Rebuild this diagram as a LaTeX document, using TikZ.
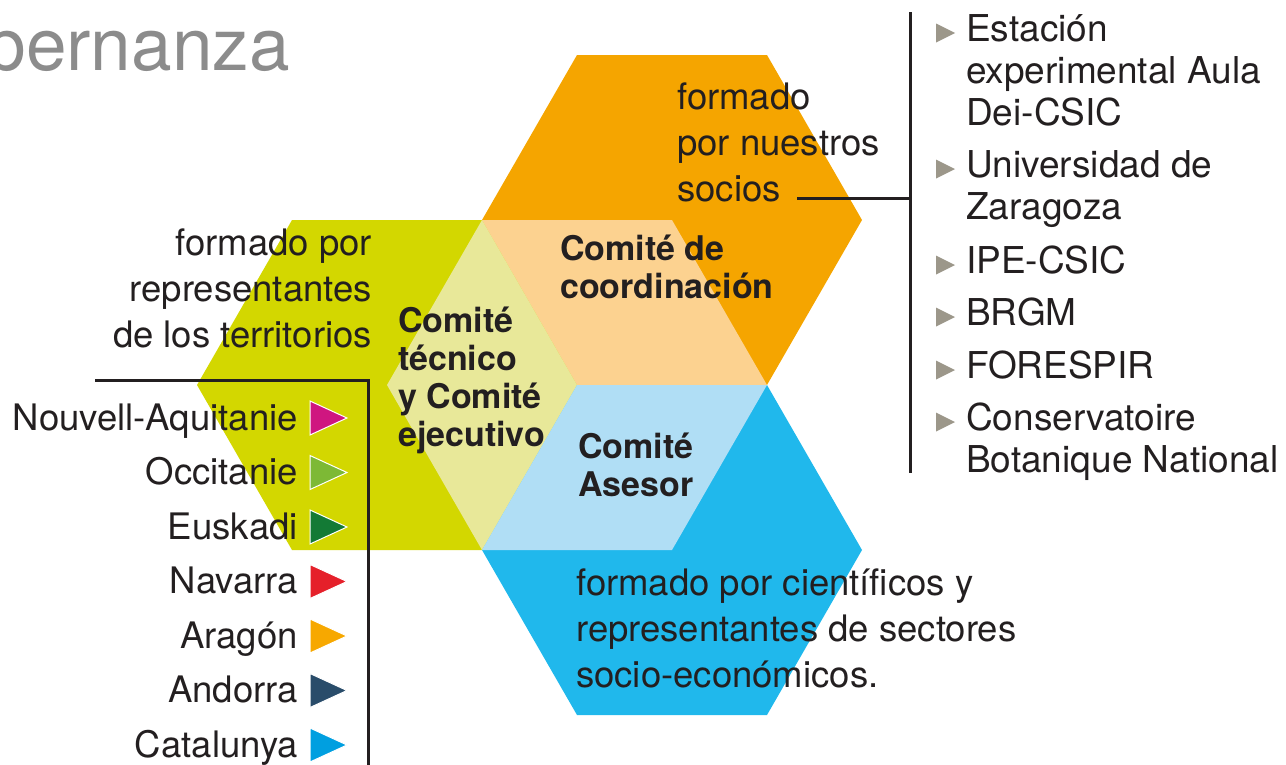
\documentclass[tikz,border=0pt]{standalone}
\usepackage{fontspec}
\setmainfont{TeX Gyre Heros}
\usepackage{tikz}
\usetikzlibrary{positioning}
\usepackage{xcolor}

\definecolor{hexorange}{HTML}{F5A500}
\definecolor{hexorangel}{HTML}{FCD290}
\definecolor{hexgreen}{HTML}{D3D700}
\definecolor{hexgreenl}{HTML}{E8E899}
\definecolor{hexblue}{HTML}{20B8EC}
\definecolor{hexbluel}{HTML}{B0DEF5}
\definecolor{ink}{HTML}{231F20}
\definecolor{titlegray}{HTML}{8C8C8C}
\definecolor{bulletgray}{HTML}{9C978A}
\definecolor{trmagenta}{HTML}{CF1680}
\definecolor{trlime}{HTML}{7DB935}
\definecolor{trdkgreen}{HTML}{137A35}
\definecolor{trred}{HTML}{E5202A}
\definecolor{trorange}{HTML}{F7A800}
\definecolor{trnavy}{HTML}{294C6A}
\definecolor{trblue}{HTML}{009FE0}

\begin{document}
\begin{tikzpicture}[
    x=1pt, y=-1pt,
    para/.style={inner sep=0pt, text=ink, font=\fontsize{36.5}{46}\selectfont},
    comite/.style={inner sep=0pt, text=ink, font=\fontsize{34}{38}\selectfont\bfseries},
    item/.style={inner sep=0pt, text=ink, align=left, font=\fontsize{37}{42}\selectfont},
    region/.style={inner sep=0pt, text=ink, font=\fontsize{36.5}{46}\selectfont},
    title/.style={inner sep=0pt, text=titlegray, font=\fontsize{73}{80}\selectfont},
    bracket/.style={ink, line width=3pt},
    bullet/.style={fill=bulletgray}
]
    \useasboundingbox (0,0) rectangle (1286,764);

    % Outer hexagons
    \fill[hexorange] (862,220) -- (767,55) -- (577,55) -- (482,220) -- (577,385) -- (767,385) -- cycle;
    \fill[hexgreen] (577,385) -- (482,220) -- (292,220) -- (197,385) -- (292,550) -- (482,550) -- cycle;
    \fill[hexblue] (862,550) -- (767,385) -- (577,385) -- (482,550) -- (577,715) -- (767,715) -- cycle;

    % Inner rhombi
    \fill[hexorangel] (577,385) -- (767,385) -- (672,220) -- (482,220) -- cycle;
    \fill[hexgreenl] (577,385) -- (482,220) -- (387,385) -- (482,550) -- cycle;
    \fill[hexbluel] (577,385) -- (482,550) -- (672,550) -- (767,385) -- cycle;

    % Title
    \node[title, anchor=base east] (gob) at (290,70) {bernanza};

    % Committee names (anchored at the last baseline)
    \node[comite, anchor=base west, align=left] (coord) at (560,298) {Comité de\\coordinación};
    \node[comite, anchor=base west, align=left] (tecnico) at (398,446) {Comité\\técnico\\y Comité\\ejecutivo};
    \node[comite, anchor=base west, align=left] (asesor) at (578,496) {Comité\\Asesor};

    % Descriptions
    \node[para, anchor=base east, align=right] (terr) at (372,347) {formado por\\representantes\\de los territorios};
    \node[para, anchor=base west, align=left] (socios) at (677,201) {formado\\por nuestros\\socios};
    \node[para, anchor=base west, align=left] (cient) at (576,687) {formado por científicos y\\representantes de sectores\\socio-económicos.};

    % Territories
    \foreach \name/\col/\i in {Nouvell-Aquitanie/trmagenta/0, Occitanie/trlime/1, Euskadi/trdkgreen/2,
        Navarra/trred/3, Aragón/trorange/4, Andorra/trnavy/5, Catalunya/trblue/6} {
        \node[region, anchor=base east] (reg\i) at (298,{430+54.5*\i}) {\name};
        \filldraw[fill=\col, draw=white, line width=1pt] ([shift={(12,-29)}]reg\i.base east)
            -- ([shift={(49,-12)}]reg\i.base east) -- ([shift={(12,5)}]reg\i.base east) -- cycle;
    }

    % Partners (anchored at the last baseline)
    \node[item, anchor=base west] (soc1) at (966,125) {Estación\\experimental Aula\\Dei-CSIC};
    \node[item, anchor=base west] (soc2) at (966,219) {Universidad de\\Zaragoza};
    \node[item, anchor=base west] (soc3) at (966,273) {IPE-CSIC};
    \node[item, anchor=base west] (soc4) at (966,325) {BRGM};
    \node[item, anchor=base west] (soc5) at (966,378) {FORESPIR};
    \node[item, anchor=base west] (soc6) at (966,472) {Conservatoire\\Botanique National};
    \foreach \b in {41, 177, 273, 325, 378, 430} {
        \fill[bullet] (936,{\b-17.5}) -- (955,{\b-8}) -- (936,{\b+1.5}) -- cycle;
    }

    % Brackets
    \coordinate (rb-top) at (910,12);
    \coordinate (rb-bot) at (910,473);
    \coordinate (rb-mid) at (910,198);
    \coordinate (soc-end) at (797,198);
    \draw[bracket] (rb-top) -- (rb-bot);
    \draw[bracket] (soc-end) -- (rb-mid);

    \coordinate (lb-start) at (95,380);
    \coordinate (lb-corner) at (368,380);
    \coordinate (lb-end) at (368,770);
    \draw[bracket] (lb-start) -- (lb-corner) -- (lb-end);
\end{tikzpicture}
\end{document}
